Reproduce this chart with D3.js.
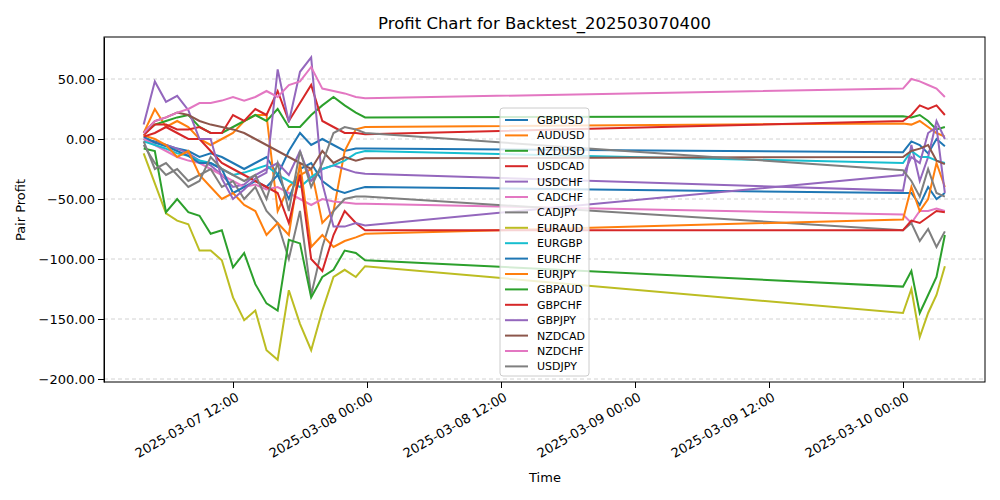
<!DOCTYPE html>
<html><head><meta charset="utf-8">
<script src="https://cdn.jsdelivr.net/npm/d3@7"></script>
<style>body{margin:0;background:#fff;font-family:"DejaVu Sans",sans-serif}</style>
</head><body><svg id="chart" width="1000" height="500"></svg>
<script>
'use strict';

// ─── Data ────────────────────────────────────────────────────────────────────
// Friday 2025-03-07 hours, then Monday 2025-03-10 hours
const friHours = [4,5,6,7,8,9,10,11,12,13,14,15,16,17,18,19,20,21,22,23,23.83];
const monHours = [0,0.75,1.5,2.25,3,3.75];

const pairs = ['GBPUSD','AUDUSD','NZDUSD','USDCAD','USDCHF','CADCHF','CADJPY','EURAUD',
  'EURGBP','EURCHF','EURJPY','GBPAUD','GBPCHF','GBPJPY','NZDCAD','NZDCHF','USDJPY'];
const colors = ['#1f77b4','#ff7f0e','#2ca02c','#d62728','#9467bd','#e377c2','#7f7f7f','#bcbd22',
  '#17becf','#1f77b4','#ff7f0e','#2ca02c','#d62728','#9467bd','#8c564b','#e377c2','#7f7f7f'];

const friValues = {
  GBPUSD: [0,-2,-5,-8,-10,-15,-12,-15,-20,-25,-20,-15,-30,-10,5,-5,0,-5,-10,-8,-8],
  AUDUSD: [5,25,10,15,10,0,-5,0,5,15,20,20,-60,-40,-30,-25,-70,-60,-10,8,10],
  NZDUSD: [5,12,15,18,20,10,5,5,10,15,20,15,25,10,10,20,28,35,28,22,18],
  USDCAD: [3,12,12,8,8,10,5,5,20,15,25,20,40,15,30,45,15,10,5,5,4],
  USDCHF: [0,-3,-5,-8,-12,-18,-22,-30,-40,-38,-30,-25,-20,-30,-10,-35,-25,-22,-25,-28,-29],
  CADCHF: [0,-5,-10,-15,-18,-20,-25,-30,-35,-40,-38,-42,-40,-45,-50,-55,-50,-52,-53,-54,-54],
  CADJPY: [-5,-20,-30,-25,-35,-30,-25,-40,-35,-50,-40,-60,-70,-100,-60,-130,-90,-60,-50,-48,-48],
  EURAUD: [-12,-37,-62,-68,-71,-93,-93,-101,-132,-151,-143,-176,-184,-126,-154,-176,-143,-115,-109,-115,-106],
  EURGBP: [-2,-5,-8,-12,-14,-18,-20,-25,-30,-28,-25,-22,-30,-35,-40,-32,-25,-22,-18,-12,-10],
  EURCHF: [2,-3,-6,-10,-14,-20,-20,-25,-45,-40,-35,-40,-30,-50,-25,-20,-35,-42,-45,-42,-40],
  EURJPY: [3,0,-5,-15,-10,-30,-40,-50,-45,-55,-60,-80,-70,-80,-20,-90,-80,-90,-85,-82,-79],
  GBPAUD: [-8,-10,-61,-50,-61,-64,-79,-76,-107,-95,-121,-137,-143,-84,-87,-132,-115,-109,-93,-95,-101],
  GBPCHF: [2,5,10,5,0,0,-10,-20,-25,-30,-35,-40,-45,-70,-30,-100,-110,-80,-60,-70,-76],
  GBPJPY: [12,48,31,36,24,0,0,-33,-50,-42,-33,-28,58,14,56,68,-37,-73,-73,-70,-72],
  NZDCAD: [5,15,18,22,20,15,12,10,8,5,0,-5,-10,-15,-20,-25,-10,-20,-15,-18,-16],
  NZDCHF: [5,15,18,22,25,30,30,32,35,32,35,40,35,45,48,60,42,40,38,35,34],
  USDJPY: [-2,-25,-20,-30,-40,-35,-15,-25,-30,-35,-30,-50,-20,-60,-10,-40,-20,5,10,8,5]
};
const monValues = {
  GBPUSD: [-11,-2,-5,-12,0,-6],
  AUDUSD: [13,12,15,10,5,2],
  NZDUSD: [19,18,20,15,8,10],
  USDCAD: [15,20,28,25,28,20],
  USDCHF: [-43,-5,-35,-15,15,0],
  CADCHF: [-63,-70,-60,-60,-58,-60],
  CADJPY: [-76,-70,-85,-75,-90,-77],
  EURAUD: [-145,-125,-165,-145,-130,-106],
  EURGBP: [-20,-10,-15,-15,-18,-20],
  EURCHF: [-45,-45,-55,-40,-50,-45],
  EURJPY: [-67,-40,-60,-50,-20,-40],
  GBPAUD: [-123,-110,-145,-130,-115,-80],
  GBPCHF: [-76,-68,-70,-65,-60,-61],
  GBPJPY: [-30,-15,-20,5,10,-45],
  NZDCAD: [-15,-10,-8,-5,-18,-21],
  NZDCHF: [42,50,48,45,42,35],
  USDJPY: [-26,-35,-48,-25,-45,-48]
};

// ─── Layout ──────────────────────────────────────────────────────────────────
const M = { left: 104, right: 985, top: 37, bottom: 382 };
const svg = d3.select('#chart');

const hourMs = 3600e3;
const fri = new Date(2025, 2, 7).getTime();
const mon = new Date(2025, 2, 10).getTime();

const x = d3.scaleTime()
  .domain([new Date(2025, 2, 7, 12), new Date(2025, 2, 10, 0)])
  .range([233, 903]);
const y = d3.scaleLinear().domain([-202.5, 85]).range([M.bottom, M.top]);

// grid
const yTicks = [-200, -150, -100, -50, 0, 50];
svg.append('g').selectAll('line').data(yTicks).join('line')
  .attr('x1', M.left).attr('x2', M.right)
  .attr('y1', d => y(d)).attr('y2', d => y(d))
  .attr('stroke', '#b0b0b0').attr('stroke-width', 0.8)
  .attr('stroke-dasharray', '4,3').attr('opacity', 0.7);

// lines
const line = d3.line().x(d => x(d[0])).y(d => y(d[1]));
pairs.forEach((p, i) => {
  const pts = friHours.map((h, k) => [new Date(fri + h * hourMs), friValues[p][k]])
    .concat(monHours.map((h, k) => [new Date(mon + h * hourMs), monValues[p][k]]));
  svg.append('path').datum(pts)
    .attr('d', line).attr('fill', 'none')
    .attr('stroke', colors[i]).attr('stroke-width', 2);
});

// axes
const fmtY = v => d3.format('.2f')(v).replace('-', '\u2212');
const yAxis = svg.append('g').attr('transform', `translate(${M.left},0)`)
  .call(d3.axisLeft(y).tickValues(yTicks).tickFormat(fmtY).tickSizeOuter(0));
yAxis.selectAll('text').attr('font-size', 13).attr('font-family', 'DejaVu Sans').attr('fill', '#000');

const xTicks = [new Date(2025,2,7,12), new Date(2025,2,8,0), new Date(2025,2,8,12),
  new Date(2025,2,9,0), new Date(2025,2,9,12), new Date(2025,2,10,0)];
const xAxis = svg.append('g').attr('transform', `translate(0,${M.bottom})`)
  .call(d3.axisBottom(x).tickValues(xTicks).tickFormat(d3.timeFormat('%Y-%m-%d %H:%M')).tickSizeOuter(0));
xAxis.select('.domain').remove();
xAxis.selectAll('text')
  .attr('font-size', 13).attr('font-family', 'DejaVu Sans').attr('fill', '#000')
  .attr('text-anchor', 'end').attr('dy', null)
  .attr('transform', 'translate(2,10) rotate(-30)');

svg.append('rect').attr('x', M.left).attr('y', M.top)
  .attr('width', M.right - M.left).attr('height', M.bottom - M.top)
  .attr('fill', 'none').attr('stroke', '#000').attr('stroke-width', 1);

// labels
svg.append('text').attr('x', (M.left + M.right) / 2).attr('y', 29)
  .attr('text-anchor', 'middle').attr('font-size', 16.5).text('Profit Chart for Backtest_202503070400');
svg.append('text').attr('x', 545).attr('y', 482)
  .attr('text-anchor', 'middle').attr('font-size', 13).text('Time');
svg.append('text').attr('transform', 'translate(25,210) rotate(-90)')
  .attr('text-anchor', 'middle').attr('font-size', 13).text('Pair Profit');

// legend
const lg = svg.append('g').attr('transform', 'translate(500,108)');
lg.append('rect').attr('width', 89).attr('height', 268).attr('rx', 3)
  .attr('fill', '#fff').attr('fill-opacity', 0.8).attr('stroke', '#ccc');
pairs.forEach((p, i) => {
  const ly = 12 + i * 15.4;
  lg.append('line').attr('x1', 5).attr('x2', 28).attr('y1', ly).attr('y2', ly)
    .attr('stroke', colors[i]).attr('stroke-width', 2);
  lg.append('text').attr('x', 37).attr('y', ly + 4).attr('font-size', 11).text(p);
});
</script></body></html>
